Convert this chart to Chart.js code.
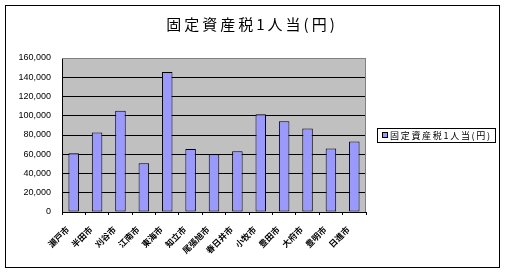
<!DOCTYPE html>
<html>
<head>
<meta charset="utf-8">
<script src="https://cdn.jsdelivr.net/npm/chart.js@4"></script>
<style>
  html, body { margin: 0; padding: 0; background: #fff; }
  #wrap { width: 505px; height: 273px; }
</style>
</head>
<body>
<div id="wrap"><canvas id="chart" width="505" height="273"></canvas></div>
<script>
// 固定資産税1人当(円) - 市別
const cities = ['瀬戸市', '半田市', '刈谷市', '江南市', '東海市', '知立市', '尾張旭市',
                '春日井市', '小牧市', '豊田市', '大府市', '豊明市', '日進市'];
const perCapita = [61000, 82600, 105300, 50600, 145500, 65400, 59900,
                   63000, 101500, 94300, 86700, 66100, 73300];
const seriesName = '固定資産税1人当(円)';
const yTicks = [0, 20000, 40000, 60000, 80000, 100000, 120000, 140000, 160000];

const JP = '"Noto Sans CJK JP", "Liberation Sans", sans-serif';

// 外枠・タイトル・プロットエリア・凡例・項目名を描く
const framePlugin = {
    id: 'frame',
    beforeDraw(chart) {
        const ctx = chart.ctx;
        const a = chart.chartArea;
        ctx.save();
        ctx.fillStyle = '#fff';
        ctx.fillRect(0, 0, chart.width, chart.height);
        ctx.strokeStyle = '#000';
        ctx.lineWidth = 1;
        ctx.strokeRect(5.5, 5.5, 494, 262);
        ctx.fillStyle = '#C0C0C0';
        ctx.fillRect(a.left, a.top, a.right - a.left, a.bottom - a.top);

        // タイトル
        ctx.fillStyle = '#000';
        ctx.font = '15px ' + JP;
        ctx.letterSpacing = '3px';
        ctx.textAlign = 'center';
        ctx.textBaseline = 'middle';
        ctx.fillText(seriesName, 252, 24);
        ctx.restore();
    },
    afterDraw(chart) {
        const ctx = chart.ctx;
        const a = chart.chartArea;
        const xs = chart.scales.x;
        ctx.save();
        ctx.strokeStyle = '#808080';
        ctx.lineWidth = 1;
        ctx.beginPath();
        ctx.moveTo(a.left, a.top + 0.5);
        ctx.lineTo(a.right - 0.5, a.top + 0.5);
        ctx.lineTo(a.right - 0.5, a.bottom);
        ctx.stroke();

        // 凡例
        const lx = 377, ly = 128, lw = 118, lh = 14;
        ctx.strokeStyle = '#000';
        ctx.strokeRect(lx + 0.5, ly + 0.5, lw, lh);
        ctx.fillStyle = '#9999FF';
        ctx.fillRect(382, 132.5, 5, 5);
        ctx.strokeRect(382.5, 132.5, 5, 5);
        ctx.fillStyle = '#000';
        ctx.font = '9px ' + JP;
        ctx.letterSpacing = '1.7px';
        ctx.textBaseline = 'middle';
        ctx.fillText(seriesName, 390, ly + lh / 2 + 1);

        // 項目名 (45度)
        ctx.font = 'bold 8.5px ' + JP;
        ctx.letterSpacing = '0px';
        ctx.textAlign = 'right';
        ctx.textBaseline = 'top';
        cities.forEach((name, i) => {
            const px = xs.getPixelForTick(i);
            ctx.save();
            ctx.translate(px - 9, a.bottom + 13);
            ctx.rotate(-Math.PI / 4);
            ctx.fillText(name, 0, 0);
            ctx.restore();
        });
        ctx.restore();
    }
};

new Chart(document.getElementById('chart'), {
    type: 'bar',
    data: {
        labels: cities,
        datasets: [{
            label: seriesName,
            data: perCapita,
            backgroundColor: '#9999FF',
            borderColor: '#000',
            borderWidth: 1,
            borderSkipped: false,
            categoryPercentage: 0.5,
            barPercentage: 0.9
        }]
    },
    options: {
        responsive: false,
        animation: false,
        layout: { padding: { left: 0, right: 139, top: 58, bottom: 0 } },
        plugins: {
            legend: { display: false },
            tooltip: { enabled: false },
            title: { display: false }
        },
        scales: {
            y: {
                min: 0,
                max: 160000,
                afterFit: (scale) => { scale.width = 62; },
                afterBuildTicks: (scale) => { scale.ticks = yTicks.map(v => ({ value: v })); },
                border: { display: true, color: '#000', width: 1 },
                grid: {
                    color: (c) => c.tick && c.tick.value === 160000 ? '#808080' : '#000',
                    lineWidth: 1,
                    drawTicks: false
                },
                ticks: {
                    color: '#000',
                    padding: 11,
                    font: { family: '"Liberation Sans", Arial, sans-serif', size: 9 },
                    callback: (v) => v.toLocaleString('en-US')
                }
            },
            x: {
                afterFit: (scale) => { scale.height = 61; },
                border: { display: true, color: '#000', width: 1 },
                grid: {
                    offset: true,
                    drawOnChartArea: false,
                    tickLength: 3,
                    color: '#000'
                },
                ticks: { display: false }
            }
        }
    },
    plugins: [framePlugin]
});
</script>
</body>
</html>
